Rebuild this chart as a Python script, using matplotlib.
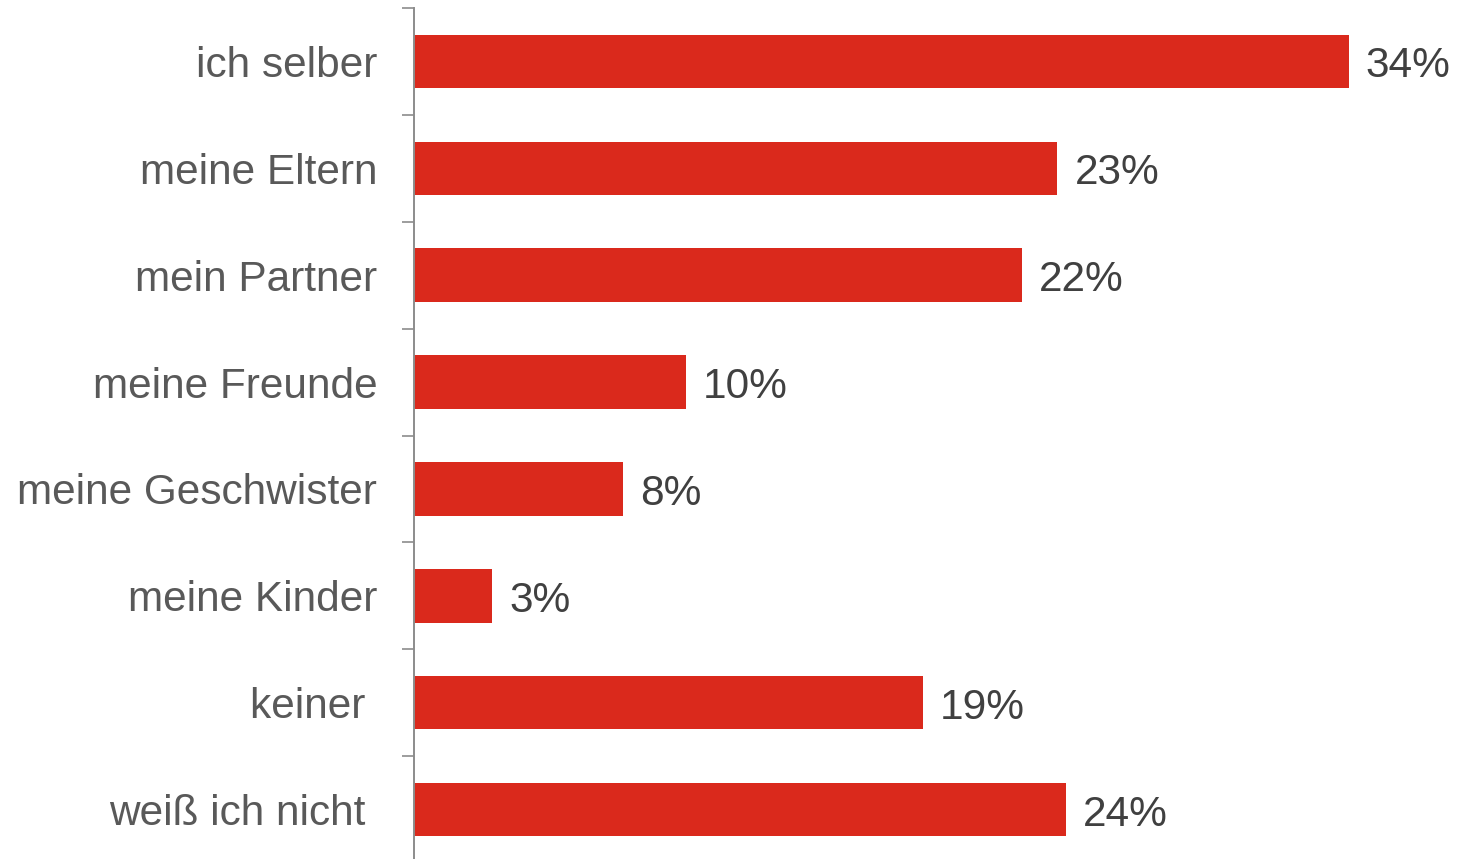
import matplotlib.pyplot as plt
import numpy as np

# categories top to bottom, as shown in the chart
categories = [
    "ich selber",
    "meine Eltern",
    "mein Partner",
    "meine Freunde",
    "meine Geschwister",
    "meine Kinder",
    "keiner ",
    "weiß ich nicht ",
]
values = [34.0, 23.4, 22.1, 9.9, 7.6, 2.85, 18.5, 23.7]
value_labels = ["34%", "23%", "22%", "10%", "8%", "3%", "19%", "24%"]

bar_color = "#da291c"
label_color = "#595959"
value_color = "#404040"
axis_color = "#8c8c8c"

plt.rcParams["font.family"] = ["Liberation Sans", "DejaVu Sans"]

fig = plt.figure(figsize=(14.59, 8.59), dpi=100, facecolor="white")
ax = fig.add_axes([414 / 1459, -4 / 859, 1 - 414 / 1459, 855 / 859])

y = np.arange(len(categories))
ax.barh(y, values, height=0.5, color=bar_color)

for yi, v, lab in zip(y, values, value_labels):
    ax.annotate(
        lab,
        xy=(v, yi),
        xytext=(17, -5),
        textcoords="offset pixels",
        va="center",
        ha="left",
        fontsize=30.5,
        color=value_color,
    )

ax.set_ylim(len(categories) - 0.5, -0.5)
ax.set_xlim(0, (1459 - 415) / (934 / 34))

ax.set_yticks(y)
ax.set_yticklabels(categories, fontsize=30.5, color=label_color)
ax.tick_params(axis="y", which="major", length=0, pad=26.5)
ax.set_yticks(np.arange(-0.5, len(categories) + 0.5, 1), minor=True)
ax.tick_params(axis="y", which="minor", length=8.6, width=1.2, color=axis_color)

ax.spines["top"].set_visible(False)
ax.spines["right"].set_visible(False)
ax.spines["bottom"].set_visible(False)
ax.spines["left"].set_color(axis_color)
ax.spines["left"].set_linewidth(1.4)
ax.set_xticks([])

fig.savefig("out.png", dpi=100)
plt.close(fig)
